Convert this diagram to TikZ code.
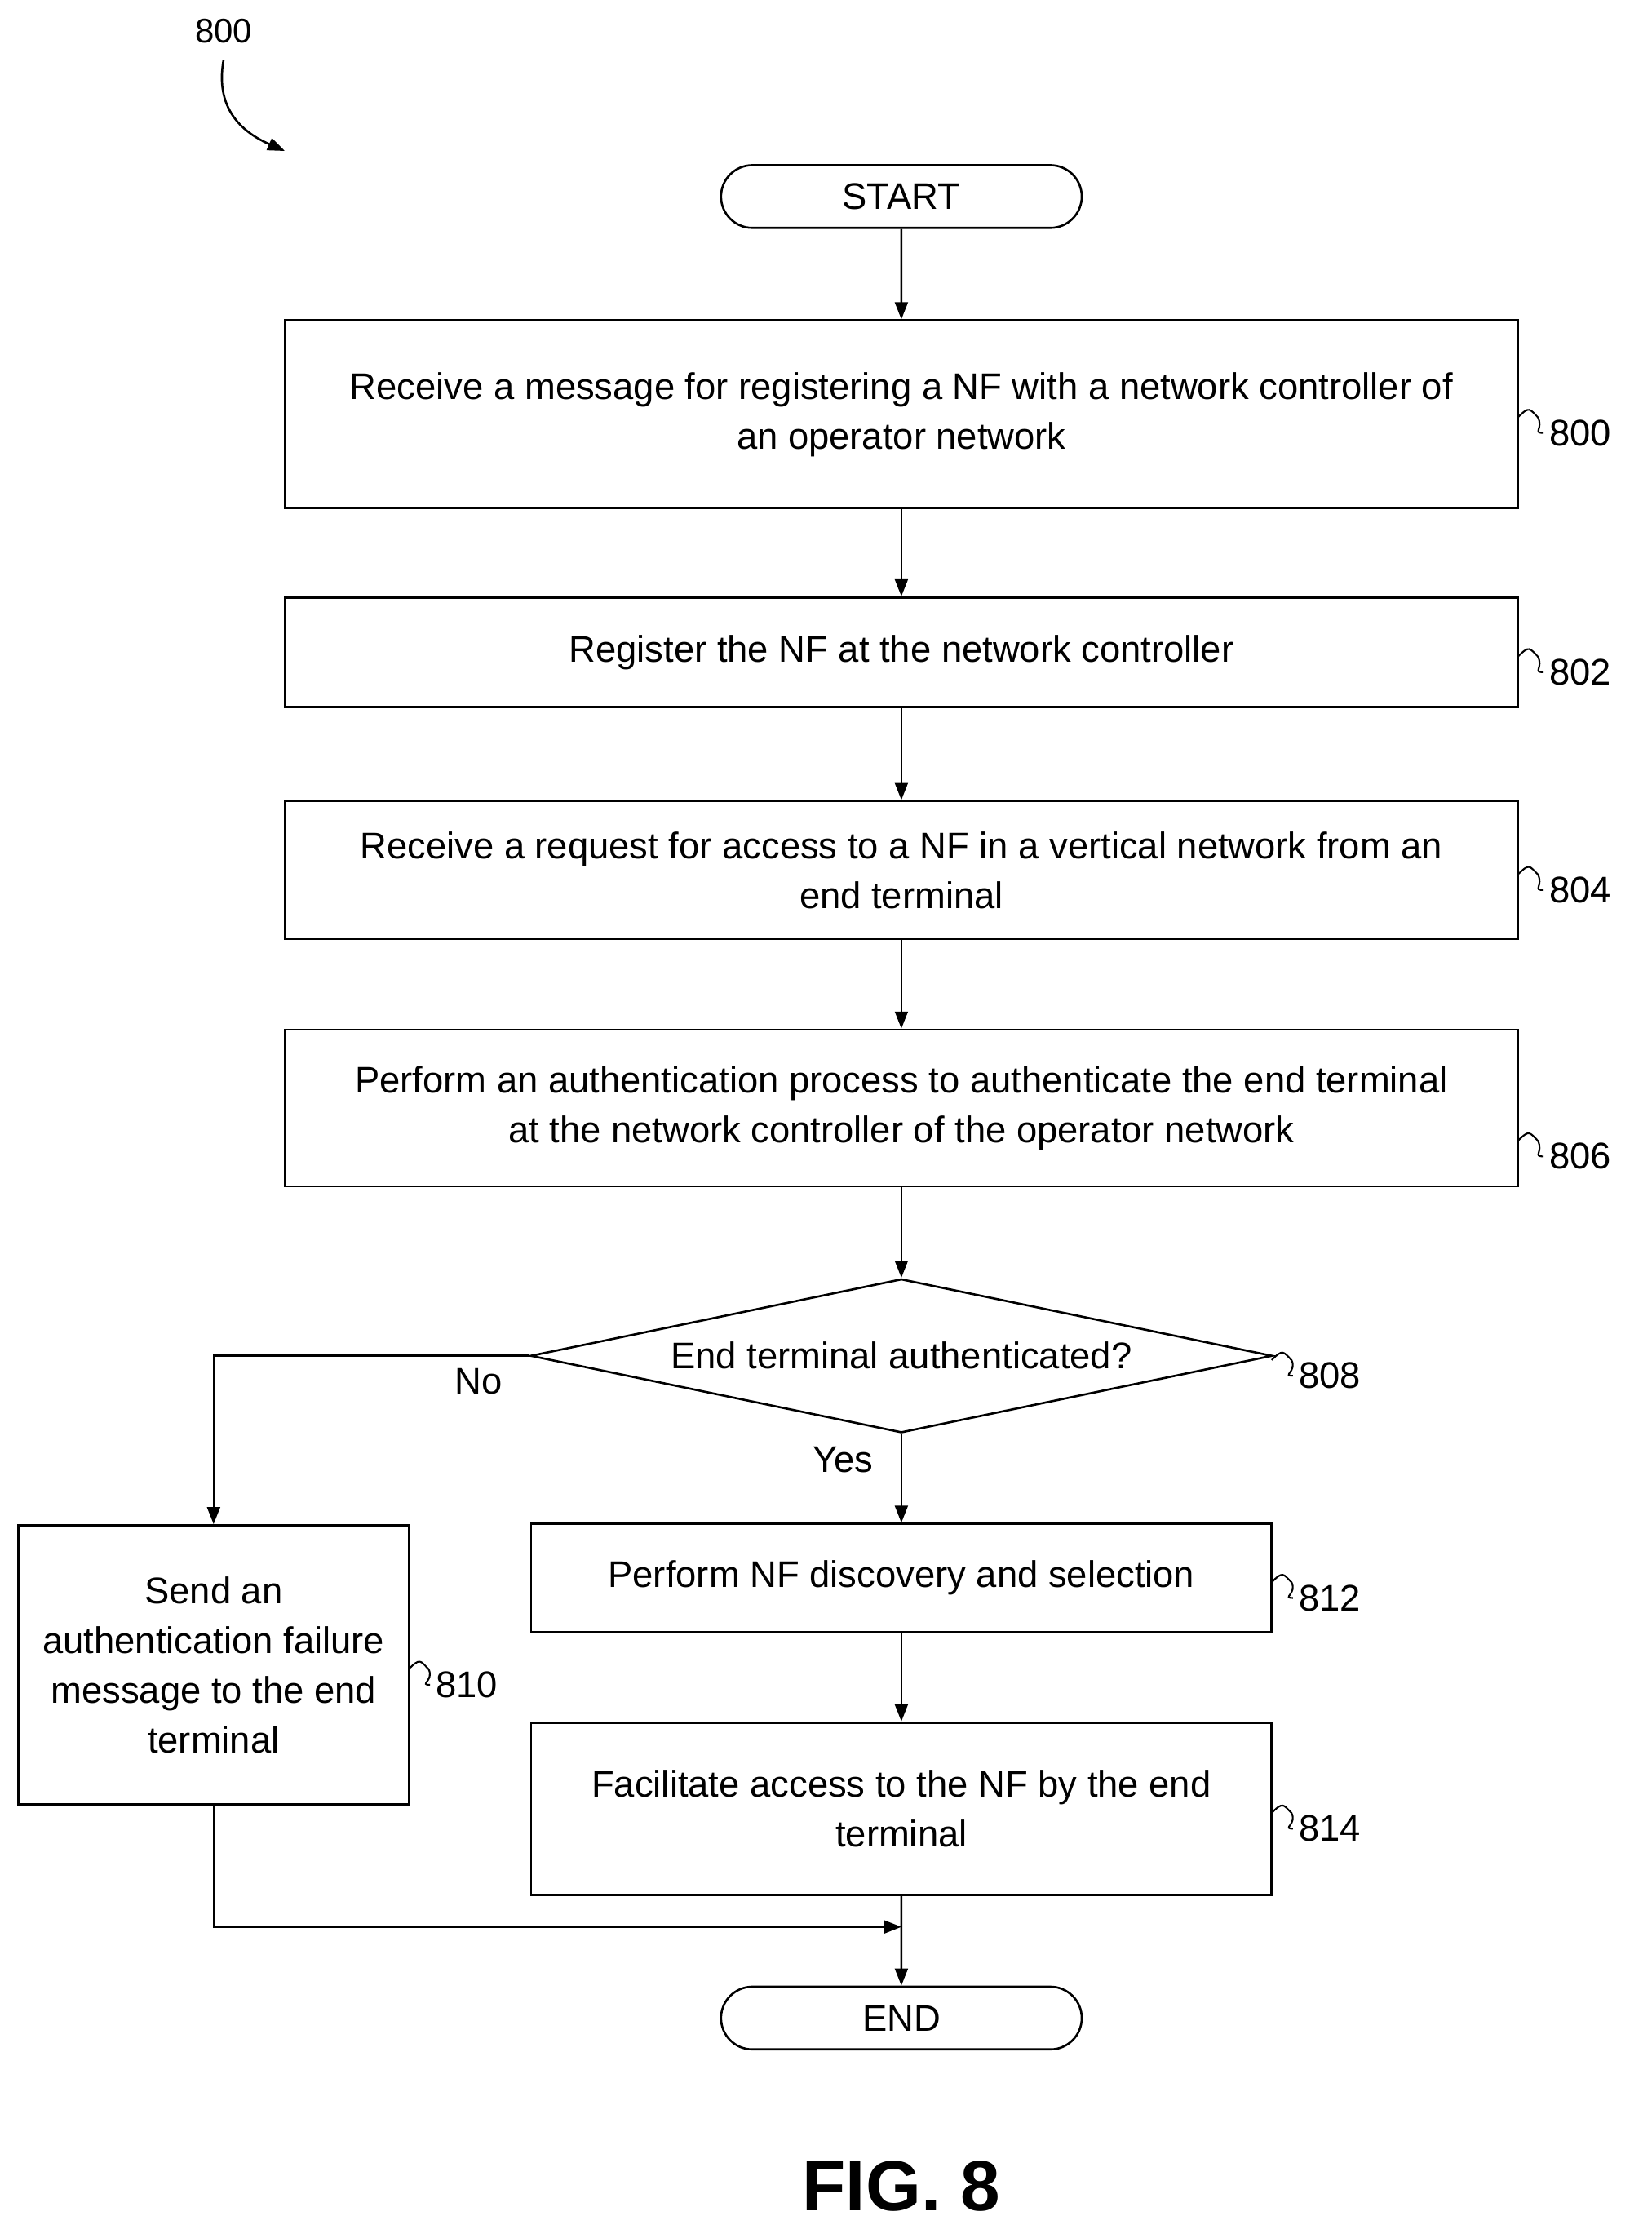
\documentclass[tikz,border=0pt]{standalone}
\usepackage{fontspec}
\setmainfont{Liberation Sans}
\usetikzlibrary{shapes.geometric,shapes.misc,arrows.meta}
\tikzset{every picture/.style={line width=1.5pt}}
\tikzset{
  procbox/.style={draw,rectangle,align=center,font=\fontsize{26}{35}\selectfont,inner sep=2pt},
  term/.style={draw,rounded rectangle,minimum width=260,minimum height=44,font=\fontsize{26}{30}\selectfont},
  refnum/.style={font=\fontsize{26}{30}\selectfont,anchor=west},
  flow/.style={-{Triangle[length=12pt,width=9pt]}},
  squig/.style={line width=1.2pt}
}
\newcommand{\squiggle}[2]{\draw[squig] (#1) .. controls +(8,-8) and +(-6,-6) .. +(14,0) .. controls +(4,8) and +(-8,0) .. (#2.west);}

\begin{document}
\begin{tikzpicture}[x=1pt,y=1pt,yscale=-1,xscale=1]
\useasboundingbox (0,0) rectangle (1160,1556);

% Figure reference
\node[font=\fontsize{24}{28}\selectfont] (fig) at (157,22) {800};
\coordinate (figtip) at (200,106);
\draw[-{Triangle[length=12pt,width=9pt]}] (157,42) .. controls (150,80) and (175,95) .. (figtip);

% Terminals
\node[term] (start) at (633,138) {START};
\node[term] (end) at (633,1417) {END};

% Process boxes
\node[procbox,minimum width=866,minimum height=132] (s800) at (633,291) {Receive a message for registering a NF with a network controller of\\an operator network};
\node[procbox,minimum width=866,minimum height=77] (s802) at (633,458) {Register the NF at the network controller};
\node[procbox,minimum width=866,minimum height=97] (s804) at (633,611) {Receive a request for access to a NF in a vertical network from an\\end terminal};
\node[procbox,minimum width=866,minimum height=110] (s806) at (633,778) {Perform an authentication process to authenticate the end terminal\\at the network controller of the operator network};
\node[draw,diamond,aspect=4.82,minimum width=521,minimum height=108,inner sep=0pt,font=\fontsize{26}{30}\selectfont] (s808) at (633,952) {End terminal authenticated?};
\node[procbox,minimum width=274,minimum height=196] (s810) at (150,1169) {Send an\\authentication failure\\message to the end\\terminal};
\node[procbox,minimum width=520,minimum height=76] (s812) at (633,1108) {Perform NF discovery and selection};
\node[procbox,minimum width=520,minimum height=121] (s814) at (633,1270) {Facilitate access to the NF by the end\\terminal};

% Reference numerals
\node[refnum] (r800) at (1084,304) {800};
\node[refnum] (r802) at (1084,472) {802};
\node[refnum] (r804) at (1084,625) {804};
\node[refnum] (r806) at (1084,812) {806};
\node[refnum] (r808) at (908,966) {808};
\node[refnum] (r810) at (302,1183) {810};
\node[refnum] (r812) at (908,1122) {812};
\node[refnum] (r814) at (908,1284) {814};
\squiggle{1066,293}{r800}
\squiggle{1066,461}{r802}
\squiggle{1066,614}{r804}
\squiggle{1066,801}{r806}
\squiggle{893,955}{r808}
\squiggle{287,1172}{r810}
\squiggle{893,1111}{r812}
\squiggle{893,1273}{r814}

% Connectors
\draw[flow] (start) -- (s800);
\draw[flow] (s800) -- (s802);
\draw[flow] (s802) -- (s804);
\draw[flow] (s804) -- (s806);
\draw[flow] (s806) -- (s808);
\draw[flow] (s808.west) -| (s810.north);
\node[font=\fontsize{26}{30}\selectfont] (no) at (336,970) {No};
\draw[flow] (s808.south) -- (s812.north);
\node[font=\fontsize{26}{30}\selectfont] (yes) at (592,1025) {Yes};
\draw[flow] (s812) -- (s814);
\draw[flow] (s814) -- (end);
\coordinate (join) at (633,1353);
\draw[flow] (s810.south) |- (join);

% Caption
\node[font=\bfseries\fontsize{50}{56}\selectfont] (cap) at (633,1535) {FIG. 8};
\end{tikzpicture}
\end{document}
